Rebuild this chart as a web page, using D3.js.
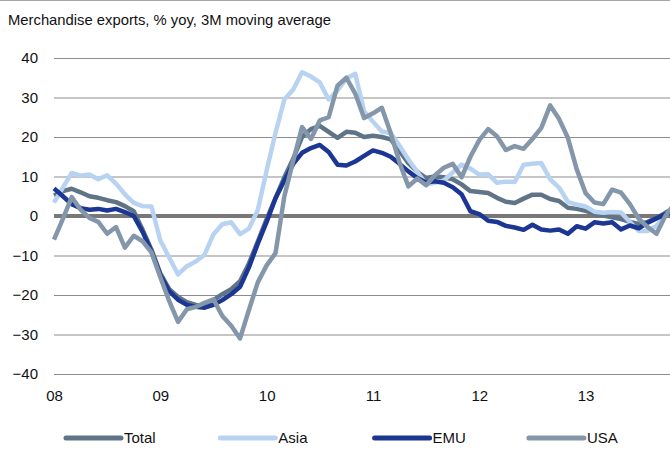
<!DOCTYPE html>
<html>
<head>
<meta charset="utf-8">
<script src="https://cdn.jsdelivr.net/npm/d3@7"></script>
<style>
  html, body { margin: 0; padding: 0; background: #fff; }
  svg { display: block; font-family: "Liberation Sans", Arial, sans-serif; }
</style>
</head>
<body>
<svg id="chart" width="670" height="450"></svg>
<script>
// Monthly observations, Jan 2008 – Nov 2013 (% yoy, 3M moving average)
const months = d3.timeMonth.range(new Date(2008, 0, 1), new Date(2013, 11, 1));

const total = [5.2, 6.3, 6.9, 6.0, 5.0, 4.6, 4.0, 3.5, 2.5, 1.2,
  -3.5, -8.5, -14.5, -18.5, -20.5, -21.8, -22.5, -22.7, -21.3, -19.8,
  -18.5, -16.5, -12, -6.5, -0.8, 4.5, 9.8, 14.5, 20, 22,
  22.8, 21.3, 19.8, 21.3, 21.1, 20, 20.3, 20, 19.4, 16.5,
  13.4, 11.2, 9.6, 10, 9.8, 9.3, 8, 6.3, 6.1, 5.8,
  4.6, 3.6, 3.3, 4.4, 5.4, 5.4, 4.3, 3.8, 2.1, 1.8,
  1.3, 0.6, 0.1, -0.3, -0.8, -1.5, -2, -1.5, -0.5, 0.8, 2];

const asia = [3.4, 7.2, 10.9, 10.2, 10.5, 9.3, 10.3, 8.2, 5.5, 3.3,
  2.5, 2.4, -6.2, -10.5, -14.8, -12.7, -11.5, -9.8, -4.6, -2.1,
  -1.6, -4.6, -3.2, 1.5, 11.5, 21, 29.5, 32, 36.4, 35.3,
  33.8, 29.5, 31.8, 34.8, 36, 26.5, 23.9, 21.4, 21, 17.8,
  14.3, 11.2, 8.0, 8.4, 9.0, 11.0, 13, 12, 10.5, 10.6,
  8.4, 8.7, 8.6, 13, 13.2, 13.4, 9.3, 7.2, 3.6, 2.9,
  2.4, 1.1, 0.8, 1.0, 0.9, -1.5, -3.8, -3.8, -2.5, 0, 2.4];

const emu = [7.0, 5.0, 3.0, 2.0, 1.6, 1.8, 1.4, 1.8, 1.0, 0,
  -4, -9, -15, -19, -21.2, -22.5, -23, -23.2, -22.5, -21.3,
  -19.8, -17.9, -13, -7, -1.5, 4.5, 9, 13.2, 16, 17.2,
  18, 16.2, 13, 12.8, 13.8, 15.2, 16.6, 16, 15, 13.2,
  11.3, 9.6, 8.5, 8.8, 8.4, 7.3, 5.5, 1.2, 0.5, -1.2,
  -1.5, -2.5, -2.9, -3.5, -2.2, -3.4, -3.7, -3.4, -4.5, -2.6,
  -3.2, -1.6, -1.9, -1.6, -3.4, -2.4, -3.1, -1.7, -0.6, 0.4, 1.3];

const usa = [-6, -0.7, 4.8, 1.6, -0.5, -1.5, -4.5, -2.8, -8, -5,
  -6.4, -9.2, -15.5, -21.5, -26.8, -23.6, -23, -22, -21.1, -25.3,
  -27.8, -31, -23.8, -16.8, -12.5, -9.4, 5, 14, 22.5, 19.5,
  24.2, 25, 33, 35, 31, 24.8, 26, 27.4, 21, 13.5,
  7.5, 9.5, 7.8, 10.3, 12.2, 13.2, 9.8, 15, 19.2, 22,
  20.2, 16.7, 17.7, 17, 19.5, 22.3, 28, 24.6, 19.8, 11.8,
  5.8, 3.4, 3.0, 6.7, 5.9, 3.0, -0.7, -2.8, -4.5, 0, 3];

const seriesNames = ["Total", "Asia", "EMU", "USA"];
const seriesColors = ["#5f7486", "#b7d3f1", "#1c3694", "#8497aa"];
const yTicks = [-40, -30, -20, -10, 0, 10, 20, 30, 40];
const yearLabels = ["08", "09", "10", "11", "12", "13"];
const title = "Merchandise exports, % yoy, 3M moving average";

const W = 670, H = 450;
const plot = { left: 54, right: 674.2, top: 58, bottom: 374 };
const fontSize = 15;

const svg = d3.select("#chart");

const x = d3.scalePoint()
  .domain(months.map(d => +d))
  .range([plot.left, plot.right]);

const y = d3.scaleLinear()
  .domain([-40, 40])
  .range([plot.bottom, plot.top]);

// thin rule along the top edge
svg.append("line")
  .attr("x1", 0).attr("x2", W)
  .attr("y1", 0.5).attr("y2", 0.5)
  .attr("stroke", "#a6a6a6").attr("stroke-width", 1);

// title
svg.append("text")
  .attr("x", 8).attr("y", 25)
  .attr("font-size", 14.8)
  .attr("fill", "#111")
  .text(title);

// horizontal gridlines
svg.append("g")
  .selectAll("line")
  .data(yTicks.filter(t => t !== 0))
  .join("line")
  .attr("x1", plot.left).attr("x2", W)
  .attr("y1", d => y(d) + 0.5).attr("y2", d => y(d) + 0.5)
  .attr("stroke", "#8c8c8c").attr("stroke-width", 1.2);

// y axis labels
const yAxis = svg.append("g")
  .attr("transform", `translate(${plot.left - 16},0)`)
  .call(d3.axisLeft(y).tickValues(yTicks).tickSize(0).tickPadding(0));
yAxis.select(".domain").remove();
yAxis.selectAll("text")
  .attr("font-size", fontSize)
  .attr("font-family", "Liberation Sans, Arial, sans-serif")
  .attr("fill", "#111");

// x axis labels at each January
const yearStarts = months.filter(d => d.getMonth() === 0);
const xAxis = svg.append("g")
  .attr("transform", `translate(0,${plot.bottom + 10})`)
  .call(d3.axisBottom(x)
    .tickValues(yearStarts.map(d => +d))
    .tickFormat((d, i) => yearLabels[i])
    .tickSize(0).tickPadding(6));
xAxis.select(".domain").remove();
xAxis.selectAll("text")
  .attr("font-size", fontSize)
  .attr("font-family", "Liberation Sans, Arial, sans-serif")
  .attr("fill", "#111");

// zero line
svg.append("line")
  .attr("x1", plot.left).attr("x2", W)
  .attr("y1", y(0)).attr("y2", y(0))
  .attr("stroke", "#787878").attr("stroke-width", 4);

// series lines
const seriesData = [total, asia, emu, usa];
const line = d3.line()
  .x((d, i) => x(+months[i]))
  .y(d => y(d));

svg.append("g")
  .selectAll("path")
  .data(seriesData)
  .join("path")
  .attr("d", d => line(d))
  .attr("fill", "none")
  .attr("stroke", (d, i) => seriesColors[i])
  .attr("stroke-width", 4.5)
  .attr("stroke-linejoin", "round");

// legend
const legend = svg.append("g").attr("transform", "translate(0,438)");
const item = legend.selectAll("g")
  .data(seriesNames)
  .join("g")
  .attr("transform", (d, i) => `translate(${66 + i * 154.3},0)`);
item.append("line")
  .attr("x1", 0).attr("x2", 55)
  .attr("y1", 0).attr("y2", 0)
  .attr("stroke", (d, i) => seriesColors[i])
  .attr("stroke-width", 5)
  .attr("stroke-linecap", "round");
item.append("text")
  .attr("x", 58).attr("y", 0).attr("dy", "0.36em")
  .attr("font-size", fontSize)
  .attr("fill", "#111")
  .text(d => d);
</script>
</body>
</html>
